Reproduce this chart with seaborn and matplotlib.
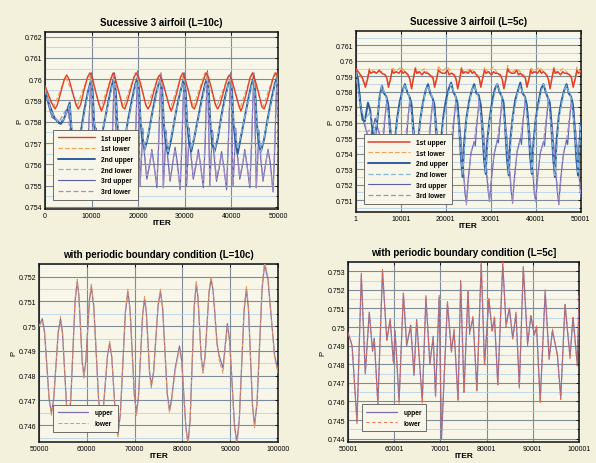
import matplotlib
matplotlib.use('Agg')
import matplotlib.pyplot as plt
from matplotlib.ticker import FuncFormatter, MultipleLocator
import seaborn as sns

# ---------------- Sucessive 3 airfoil (L=10c) ----------------
iter_10c_1u = [0, 700, 1400,
    2150, 2650, 3400, 4150, 4650, 5150, 5900, 6650,
    7135, 7635, 8385, 9135, 9635, 10135, 10885, 11635,
    12120, 12620, 13370, 14120, 14620, 15120, 15870, 16620,
    17105, 17605, 18355, 19105, 19605, 20105, 20855, 21605,
    22090, 22590, 23340, 24090, 24590, 25090, 25840, 26590,
    27075, 27575, 28325, 29075, 29575, 30075, 30825, 31575,
    32060, 32560, 33310, 34060, 34560, 35060, 35810, 36560,
    37045, 37545, 38295, 39045, 39545, 40045, 40795, 41545,
    42030, 42530, 43280, 44030, 44530, 45030, 45780, 46530,
    47015, 47515, 48265, 49015, 49515, 50000]
p_10c_1u = [0.7597, 0.7593, 0.7589,
    0.7586, 0.7588, 0.7594, 0.7600, 0.7602, 0.7600, 0.7594, 0.7588,
    0.7586, 0.7588, 0.7595, 0.7601, 0.7603, 0.7601, 0.7594, 0.7588,
    0.7585, 0.7588, 0.7594, 0.7600, 0.7603, 0.7600, 0.7594, 0.7587,
    0.7586, 0.7589, 0.7595, 0.7601, 0.7603, 0.7601, 0.7595, 0.7588,
    0.7586, 0.7588, 0.7594, 0.7600, 0.7602, 0.7600, 0.7594, 0.7588,
    0.7585, 0.7588, 0.7594, 0.7601, 0.7603, 0.7600, 0.7594, 0.7587,
    0.7586, 0.7589, 0.7595, 0.7600, 0.7603, 0.7601, 0.7595, 0.7588,
    0.7586, 0.7588, 0.7594, 0.7600, 0.7602, 0.7600, 0.7594, 0.7588,
    0.7585, 0.7588, 0.7594, 0.7601, 0.7603, 0.7600, 0.7594, 0.7587,
    0.7586, 0.7589, 0.7595, 0.7601, 0.7603, 0.7601]

iter_10c_1l = [0, 1000,
    1900, 3150, 4400, 5650,
    6885, 8135, 9385, 10635,
    11870, 13120, 14370, 15620,
    16855, 18105, 19355, 20605,
    21840, 23090, 24340, 25590,
    26825, 28075, 29325, 30575,
    31810, 33060, 34310, 35560,
    36795, 38045, 39295, 40545,
    41780, 43030, 44280, 45530,
    46765, 48015, 49265, 50000]
p_10c_1l = [0.7596, 0.7590,
    0.7587, 0.7594, 0.7601, 0.7595,
    0.7587, 0.7595, 0.7602, 0.7596,
    0.7586, 0.7594, 0.7602, 0.7595,
    0.7587, 0.7595, 0.7603, 0.7596,
    0.7587, 0.7594, 0.7601, 0.7595,
    0.7586, 0.7594, 0.7602, 0.7596,
    0.7587, 0.7595, 0.7603, 0.7595,
    0.7587, 0.7594, 0.7601, 0.7596,
    0.7586, 0.7594, 0.7602, 0.7595,
    0.7587, 0.7595, 0.7603, 0.7600]

iter_10c_2u = [0, 600, 1300, 2000, 2800, 3400, 4000, 4700, 5300, 5700, 6200, 6900, 7600, 8400, 9200,
    9935, 10235, 10535, 10935, 11435, 12135, 12935, 13735, 14435,
    14920, 15220, 15520, 15920, 16420, 17120, 17920, 18720, 19420,
    19905, 20205, 20505, 20905, 21405, 22105, 22905, 23705, 24405,
    24890, 25190, 25490, 25890, 26390, 27090, 27890, 28690, 29390,
    29875, 30175, 30475, 30875, 31375, 32075, 32875, 33675, 34375,
    34860, 35160, 35460, 35860, 36360, 37060, 37860, 38660, 39360,
    39845, 40145, 40445, 40845, 41345, 42045, 42845, 43645, 44345,
    44830, 45130, 45430, 45830, 46330, 47030, 47830, 48630, 49330,
    49815, 50000]
p_10c_2u = [0.7596, 0.7590, 0.7586, 0.7582, 0.7580, 0.7579, 0.7581, 0.7585, 0.7589, 0.7576, 0.7565, 0.7561, 0.7574, 0.7585, 0.7594,
    0.7600, 0.7594, 0.7580, 0.7571, 0.7566, 0.7573, 0.7582, 0.7591, 0.7598,
    0.7601, 0.7593, 0.7579, 0.7570, 0.7565, 0.7572, 0.7582, 0.7591, 0.7598,
    0.7601, 0.7594, 0.7580, 0.7571, 0.7567, 0.7573, 0.7583, 0.7592, 0.7598,
    0.7600, 0.7593, 0.7579, 0.7570, 0.7565, 0.7572, 0.7582, 0.7591, 0.7597,
    0.7601, 0.7594, 0.7580, 0.7571, 0.7566, 0.7573, 0.7582, 0.7591, 0.7598,
    0.7601, 0.7593, 0.7580, 0.7570, 0.7566, 0.7572, 0.7583, 0.7592, 0.7598,
    0.7600, 0.7594, 0.7579, 0.7571, 0.7565, 0.7573, 0.7582, 0.7591, 0.7598,
    0.7601, 0.7593, 0.7580, 0.7570, 0.7566, 0.7572, 0.7582, 0.7591, 0.7598,
    0.7601, 0.7597]

iter_10c_2l = [0, 1300, 2800, 4000, 5300, 6200, 7600, 9200,
    9935, 10535, 11435, 12935, 14435,
    14920, 15520, 16420, 17920, 19420,
    19905, 20505, 21405, 22905, 24405,
    24890, 25490, 26390, 27890, 29390,
    29875, 30475, 31375, 32875, 34375,
    34860, 35460, 36360, 37860, 39360,
    39845, 40445, 41345, 42845, 44345,
    44830, 45430, 46330, 47830, 49330,
    49815, 50000]
p_10c_2l = [0.7595, 0.7585, 0.7580, 0.7581, 0.7588, 0.7563, 0.7573, 0.7593,
    0.7600, 0.7581, 0.7567, 0.7582, 0.7597,
    0.7600, 0.7580, 0.7566, 0.7581, 0.7597,
    0.7601, 0.7581, 0.7567, 0.7582, 0.7598,
    0.7600, 0.7580, 0.7566, 0.7582, 0.7597,
    0.7600, 0.7581, 0.7567, 0.7581, 0.7597,
    0.7601, 0.7580, 0.7566, 0.7582, 0.7598,
    0.7600, 0.7581, 0.7567, 0.7582, 0.7597,
    0.7600, 0.7580, 0.7566, 0.7581, 0.7597,
    0.7600, 0.7596]

iter_10c_3u = [0, 700, 1500, 2300, 3000, 3600, 4200, 4900, 5400, 5900, 6400, 7000, 7600, 8200, 8800, 9400, 9700,
    9935, 10185, 10435, 10735, 11015, 11335, 11875, 12435, 12955, 13435, 14035, 14435, 14685,
    14920, 15170, 15420, 15720, 16000, 16320, 16860, 17420, 17940, 18420, 19020, 19420, 19670,
    19905, 20155, 20405, 20705, 20985, 21305, 21845, 22405, 22925, 23405, 24005, 24405, 24655,
    24890, 25140, 25390, 25690, 25970, 26290, 26830, 27390, 27910, 28390, 28990, 29390, 29640,
    29875, 30125, 30375, 30675, 30955, 31275, 31815, 32375, 32895, 33375, 33975, 34375, 34625,
    34860, 35110, 35360, 35660, 35940, 36260, 36800, 37360, 37880, 38360, 38960, 39360, 39610,
    39845, 40095, 40345, 40645, 40925, 41245, 41785, 42345, 42865, 43345, 43945, 44345, 44595,
    44830, 45080, 45330, 45630, 45910, 46230, 46770, 47330, 47850, 48330, 48930, 49330, 49580,
    49815, 50000]
p_10c_3u = [0.7596, 0.7588, 0.7582, 0.7581, 0.7579, 0.7580, 0.7582, 0.7586, 0.7580, 0.7560, 0.7543, 0.7560, 0.7572, 0.7556, 0.7551, 0.7578, 0.7594,
    0.7603, 0.7580, 0.7550, 0.7563, 0.7577, 0.7565, 0.7553, 0.7559, 0.7567, 0.7560, 0.7549, 0.7570, 0.7590,
    0.7603, 0.7579, 0.7551, 0.7564, 0.7576, 0.7564, 0.7552, 0.7558, 0.7566, 0.7559, 0.7548, 0.7571, 0.7591,
    0.7604, 0.7580, 0.7550, 0.7563, 0.7577, 0.7565, 0.7553, 0.7559, 0.7567, 0.7560, 0.7549, 0.7570, 0.7590,
    0.7603, 0.7581, 0.7549, 0.7562, 0.7576, 0.7564, 0.7552, 0.7560, 0.7568, 0.7561, 0.7548, 0.7569, 0.7590,
    0.7603, 0.7580, 0.7550, 0.7563, 0.7577, 0.7565, 0.7553, 0.7559, 0.7567, 0.7560, 0.7549, 0.7570, 0.7591,
    0.7604, 0.7579, 0.7551, 0.7564, 0.7576, 0.7564, 0.7552, 0.7558, 0.7566, 0.7559, 0.7548, 0.7571, 0.7590,
    0.7603, 0.7580, 0.7550, 0.7563, 0.7577, 0.7565, 0.7553, 0.7559, 0.7567, 0.7560, 0.7549, 0.7570, 0.7590,
    0.7603, 0.7581, 0.7549, 0.7562, 0.7576, 0.7564, 0.7552, 0.7560, 0.7567, 0.7561, 0.7547, 0.7569, 0.7591,
    0.7603, 0.7556]

iter_10c_3l = [0, 1500, 3000, 4900, 6400, 7600, 8800,
    9935, 10435, 11015, 11875, 12955, 14035,
    14920, 15420, 16000, 16860, 17940, 19020,
    19905, 20405, 20985, 21845, 22925, 24005,
    24890, 25390, 25970, 26830, 27910, 28990,
    29875, 30375, 30955, 31815, 32895, 33975,
    34860, 35360, 35940, 36800, 37880, 38960,
    39845, 40345, 40925, 41785, 42865, 43945,
    44830, 45330, 45910, 46770, 47850, 48930,
    49815, 50000]
p_10c_3l = [0.7595, 0.7583, 0.7580, 0.7587, 0.7545, 0.7571, 0.7552,
    0.7602, 0.7551, 0.7575, 0.7554, 0.7566, 0.7550,
    0.7602, 0.7550, 0.7576, 0.7553, 0.7565, 0.7549,
    0.7603, 0.7551, 0.7575, 0.7554, 0.7566, 0.7550,
    0.7602, 0.7549, 0.7574, 0.7553, 0.7567, 0.7549,
    0.7602, 0.7551, 0.7575, 0.7554, 0.7566, 0.7550,
    0.7603, 0.7550, 0.7576, 0.7553, 0.7565, 0.7549,
    0.7602, 0.7551, 0.7575, 0.7554, 0.7566, 0.7550,
    0.7602, 0.7549, 0.7574, 0.7553, 0.7567, 0.7548,
    0.7602, 0.7560]

# ---------------- Sucessive 3 airfoil (L=5c) ----------------
iter_5c_1u = [1, 800, 1500, 2126, 2600, 3000, 3300, 4000, 4600, 5200,
    5790, 6490, 6890, 7260, 7690, 8090, 8390, 8990, 9590, 10090, 10490,
    10920, 11620, 12020, 12390, 12820, 13220, 13520, 14120, 14720, 15220, 15620,
    16050, 16750, 17150, 17520, 17950, 18350, 18650, 19250, 19850, 20350, 20750,
    21180, 21880, 22280, 22650, 23080, 23480, 23780, 24380, 24980, 25480, 25880,
    26310, 27010, 27410, 27780, 28210, 28610, 28910, 29510, 30110, 30610, 31010,
    31440, 32140, 32540, 32910, 33340, 33740, 34040, 34640, 35240, 35740, 36140,
    36570, 37270, 37670, 38040, 38470, 38870, 39170, 39770, 40370, 40870, 41270,
    41700, 42400, 42800, 43170, 43600, 44000, 44300, 44900, 45500, 46000, 46400,
    46830, 47530, 47930, 48300, 48730, 49130, 49430, 50001]
p_5c_1u = [0.7595, 0.7592, 0.7589, 0.7583, 0.7588, 0.7594, 0.7592, 0.7593, 0.7592, 0.7594,
    0.7592, 0.7591, 0.7589, 0.7583, 0.7588, 0.7594, 0.7592, 0.7593, 0.7592, 0.7594, 0.7592,
    0.7593, 0.7591, 0.7588, 0.7582, 0.7589, 0.7595, 0.7592, 0.7593, 0.7591, 0.7593, 0.7592,
    0.7592, 0.7590, 0.7589, 0.7583, 0.7588, 0.7594, 0.7593, 0.7592, 0.7592, 0.7594, 0.7591,
    0.7592, 0.7591, 0.7588, 0.7582, 0.7588, 0.7595, 0.7592, 0.7593, 0.7592, 0.7594, 0.7592,
    0.7593, 0.7590, 0.7589, 0.7583, 0.7589, 0.7594, 0.7592, 0.7593, 0.7591, 0.7593, 0.7592,
    0.7592, 0.7591, 0.7588, 0.7582, 0.7588, 0.7595, 0.7593, 0.7592, 0.7592, 0.7594, 0.7591,
    0.7592, 0.7590, 0.7589, 0.7583, 0.7588, 0.7594, 0.7592, 0.7593, 0.7592, 0.7594, 0.7592,
    0.7593, 0.7591, 0.7588, 0.7582, 0.7589, 0.7595, 0.7592, 0.7593, 0.7591, 0.7593, 0.7592,
    0.7592, 0.7591, 0.7589, 0.7583, 0.7588, 0.7594, 0.7592, 0.7593]

iter_5c_1l = [1, 1200, 2126, 3000, 4200,
    5790, 6890, 7260, 7790, 8090, 8790, 10090,
    10920, 12020, 12390, 12920, 13220, 13920, 15220,
    16050, 17150, 17520, 18050, 18350, 19050, 20350,
    21180, 22280, 22650, 23180, 23480, 24180, 25480,
    26310, 27410, 27780, 28310, 28610, 29310, 30610,
    31440, 32540, 32910, 33440, 33740, 34440, 35740,
    36570, 37670, 38040, 38570, 38870, 39570, 40870,
    41700, 42800, 43170, 43700, 44000, 44700, 46000,
    46830, 47930, 48300, 48830, 49130, 50001]
p_5c_1l = [0.7595, 0.7589, 0.7584, 0.7595, 0.7593,
    0.7593, 0.7590, 0.7584, 0.7590, 0.7596, 0.7593, 0.7596,
    0.7593, 0.7589, 0.7583, 0.7591, 0.7596, 0.7592, 0.7595,
    0.7592, 0.7590, 0.7584, 0.7590, 0.7597, 0.7593, 0.7596,
    0.7593, 0.7589, 0.7583, 0.7590, 0.7596, 0.7592, 0.7595,
    0.7593, 0.7590, 0.7584, 0.7591, 0.7596, 0.7593, 0.7596,
    0.7592, 0.7589, 0.7583, 0.7590, 0.7597, 0.7592, 0.7595,
    0.7593, 0.7590, 0.7584, 0.7590, 0.7596, 0.7593, 0.7596,
    0.7593, 0.7589, 0.7583, 0.7591, 0.7596, 0.7592, 0.7595,
    0.7593, 0.7590, 0.7584, 0.7590, 0.7596, 0.7593]

iter_5c_2u = [1, 500, 1000, 1500, 2000, 2700, 3200, 3800, 4300, 4800, 5300,
    5790, 6290, 6790, 7190, 7590, 7990, 8340, 8690, 9190, 9790, 10390,
    10920, 11420, 11920, 12320, 12720, 13120, 13470, 13820, 14320, 14920, 15520,
    16050, 16550, 17050, 17450, 17850, 18250, 18600, 18950, 19450, 20050, 20650,
    21180, 21680, 22180, 22580, 22980, 23380, 23730, 24080, 24580, 25180, 25780,
    26310, 26810, 27310, 27710, 28110, 28510, 28860, 29210, 29710, 30310, 30910,
    31440, 31940, 32440, 32840, 33240, 33640, 33990, 34340, 34840, 35440, 36040,
    36570, 37070, 37570, 37970, 38370, 38770, 39120, 39470, 39970, 40570, 41170,
    41700, 42200, 42700, 43100, 43500, 43900, 44250, 44600, 45100, 45700, 46300,
    46830, 47330, 47830, 48230, 48630, 49030, 49380, 49730, 50001]
p_5c_2u = [0.7594, 0.7588, 0.7572, 0.7562, 0.7561, 0.7573, 0.7568, 0.7553, 0.7551, 0.7562, 0.7577,
    0.7584, 0.7579, 0.7577, 0.7572, 0.7555, 0.7537, 0.7528, 0.7548, 0.7563, 0.7574, 0.7581,
    0.7585, 0.7580, 0.7577, 0.7573, 0.7556, 0.7536, 0.7526, 0.7547, 0.7562, 0.7573, 0.7581,
    0.7585, 0.7579, 0.7576, 0.7572, 0.7554, 0.7535, 0.7527, 0.7549, 0.7564, 0.7575, 0.7582,
    0.7586, 0.7580, 0.7577, 0.7573, 0.7556, 0.7537, 0.7525, 0.7547, 0.7563, 0.7574, 0.7581,
    0.7585, 0.7579, 0.7578, 0.7572, 0.7555, 0.7536, 0.7527, 0.7548, 0.7562, 0.7574, 0.7582,
    0.7585, 0.7580, 0.7577, 0.7573, 0.7554, 0.7535, 0.7526, 0.7549, 0.7563, 0.7575, 0.7581,
    0.7586, 0.7579, 0.7577, 0.7572, 0.7556, 0.7537, 0.7527, 0.7547, 0.7562, 0.7573, 0.7582,
    0.7585, 0.7580, 0.7576, 0.7573, 0.7555, 0.7536, 0.7525, 0.7548, 0.7564, 0.7574, 0.7581,
    0.7585, 0.7579, 0.7577, 0.7572, 0.7555, 0.7536, 0.7526, 0.7548, 0.7560]

iter_5c_2l = [1, 1000, 2000, 3200, 4300, 5300,
    5790, 6790, 7590, 8340, 9190, 10390,
    10920, 11920, 12720, 13470, 14320, 15520,
    16050, 17050, 17850, 18600, 19450, 20650,
    21180, 22180, 22980, 23730, 24580, 25780,
    26310, 27310, 28110, 28860, 29710, 30910,
    31440, 32440, 33240, 33990, 34840, 36040,
    36570, 37570, 38370, 39120, 39970, 41170,
    41700, 42700, 43500, 44250, 45100, 46300,
    46830, 47830, 48630, 49380, 50001]
p_5c_2l = [0.7593, 0.7571, 0.7562, 0.7567, 0.7552, 0.7576,
    0.7584, 0.7576, 0.7557, 0.7529, 0.7561, 0.7580,
    0.7585, 0.7577, 0.7556, 0.7527, 0.7562, 0.7581,
    0.7584, 0.7576, 0.7557, 0.7528, 0.7561, 0.7580,
    0.7585, 0.7577, 0.7556, 0.7526, 0.7562, 0.7581,
    0.7584, 0.7576, 0.7557, 0.7528, 0.7561, 0.7580,
    0.7585, 0.7577, 0.7556, 0.7527, 0.7562, 0.7581,
    0.7584, 0.7576, 0.7557, 0.7528, 0.7561, 0.7580,
    0.7585, 0.7577, 0.7556, 0.7526, 0.7562, 0.7581,
    0.7584, 0.7576, 0.7557, 0.7528, 0.7558]

iter_5c_3u = [1, 600, 1200, 1800, 2500, 3100, 3700, 4300, 4900, 5400,
    5790, 6040, 6390, 6890, 7290, 7890, 8490, 8890, 9190, 9590, 10190,
    10920, 11170, 11520, 12020, 12420, 13020, 13620, 14020, 14320, 14720, 15320,
    16050, 16300, 16650, 17150, 17550, 18150, 18750, 19150, 19450, 19850, 20450,
    21180, 21430, 21780, 22280, 22680, 23280, 23880, 24280, 24580, 24980, 25580,
    26310, 26560, 26910, 27410, 27810, 28410, 29010, 29410, 29710, 30110, 30710,
    31440, 31690, 32040, 32540, 32940, 33540, 34140, 34540, 34840, 35240, 35840,
    36570, 36820, 37170, 37670, 38070, 38670, 39270, 39670, 39970, 40370, 40970,
    41700, 41950, 42300, 42800, 43200, 43800, 44400, 44800, 45100, 45500, 46100,
    46830, 47080, 47430, 47930, 48330, 48930, 49530, 50001]
p_5c_3u = [0.7594, 0.7586, 0.7570, 0.7560, 0.7553, 0.7549, 0.7556, 0.7563, 0.7556, 0.7551,
    0.7549, 0.7546, 0.7560, 0.7575, 0.7571, 0.7552, 0.7530, 0.7516, 0.7511, 0.7524, 0.7540,
    0.7548, 0.7545, 0.7559, 0.7576, 0.7572, 0.7553, 0.7529, 0.7514, 0.7509, 0.7523, 0.7539,
    0.7549, 0.7547, 0.7561, 0.7575, 0.7570, 0.7551, 0.7531, 0.7515, 0.7510, 0.7525, 0.7541,
    0.7550, 0.7546, 0.7560, 0.7576, 0.7571, 0.7552, 0.7530, 0.7514, 0.7508, 0.7524, 0.7540,
    0.7548, 0.7545, 0.7559, 0.7575, 0.7572, 0.7553, 0.7529, 0.7516, 0.7510, 0.7523, 0.7539,
    0.7549, 0.7547, 0.7560, 0.7576, 0.7570, 0.7551, 0.7530, 0.7515, 0.7509, 0.7525, 0.7541,
    0.7550, 0.7546, 0.7561, 0.7575, 0.7571, 0.7552, 0.7531, 0.7514, 0.7510, 0.7524, 0.7540,
    0.7548, 0.7545, 0.7559, 0.7576, 0.7572, 0.7553, 0.7529, 0.7515, 0.7508, 0.7523, 0.7539,
    0.7549, 0.7546, 0.7560, 0.7575, 0.7571, 0.7552, 0.7530, 0.7512]

iter_5c_3l = [1, 1200, 2500, 3700, 4900,
    5790, 6890, 7890, 9190, 10190,
    10920, 12020, 13020, 14320, 15320,
    16050, 17150, 18150, 19450, 20450,
    21180, 22280, 23280, 24580, 25580,
    26310, 27410, 28410, 29710, 30710,
    31440, 32540, 33540, 34840, 35840,
    36570, 37670, 38670, 39970, 40970,
    41700, 42800, 43800, 45100, 46100,
    46830, 47930, 48930, 50001]
p_5c_3l = [0.7593, 0.7569, 0.7554, 0.7557, 0.7557,
    0.7548, 0.7574, 0.7553, 0.7509, 0.7541,
    0.7547, 0.7575, 0.7552, 0.7508, 0.7540,
    0.7548, 0.7574, 0.7553, 0.7510, 0.7542,
    0.7549, 0.7575, 0.7552, 0.7507, 0.7541,
    0.7547, 0.7574, 0.7553, 0.7509, 0.7540,
    0.7548, 0.7575, 0.7552, 0.7508, 0.7542,
    0.7549, 0.7574, 0.7553, 0.7509, 0.7541,
    0.7547, 0.7575, 0.7552, 0.7507, 0.7540,
    0.7548, 0.7574, 0.7553, 0.7512]

# ---------------- periodic boundary condition (L=10c) ----------------
iter_pbc_10c = [50000, 50700, 51175, 52125, 52600, 53075, 54025, 54500, 54925, 55775,
    56200, 56650, 57550, 58000, 58350, 59050, 59400, 59790, 60560, 60950,
    61460, 62490, 63000, 63450, 64350, 64800, 65225, 66075, 66500, 67025,
    68075, 68600, 69050, 69950, 70400, 70825, 71675, 72100, 72450, 73150,
    73500, 73975, 74925, 75400, 75875, 76825, 77300, 77700, 78500, 78900,
    79400, 79850, 80750, 81200, 81625, 82475, 82900, 83250, 83950, 84300,
    84725, 85575, 86000, 86425, 87275, 87700, 88500, 88950, 89400, 89900,
    90900, 91400, 91900, 92900, 93400, 93825, 94675, 95100, 95625, 96675,
    97200, 97900, 99300, 100000]
p_pbc_10c_upper = [0.7500, 0.7503, 0.74975, 0.74705, 0.7465, 0.74705, 0.74975, 0.7503, 0.7497, 0.7468,
    0.7462, 0.7470, 0.7510, 0.7518, 0.75125, 0.74855, 0.7480, 0.74855, 0.75105, 0.7516,
    0.75081, 0.74699, 0.7462, 0.74665, 0.74885, 0.7493, 0.74876, 0.74614, 0.7456, 0.74645,
    0.75055, 0.7514, 0.75068, 0.74722, 0.7465, 0.74717, 0.75043, 0.7511, 0.75059, 0.74811,
    0.7476, 0.74815, 0.75085, 0.7514, 0.7507, 0.7473, 0.7466, 0.7470, 0.7483, 0.7487,
    0.7492, 0.74863, 0.74587, 0.7453, 0.74623, 0.75077, 0.7517, 0.75119, 0.74871, 0.7482,
    0.74874, 0.75136, 0.7519, 0.75145, 0.74925, 0.7488, 0.7483, 0.7492, 0.7501, 0.7494,
    0.7460, 0.7453, 0.7462, 0.7506, 0.7515, 0.7507, 0.7468, 0.7460, 0.7469, 0.7515,
    0.7525, 0.7519, 0.7488, 0.7482]
p_pbc_10c_lower = [0.7500, 0.7502, 0.74970, 0.74700, 0.7464, 0.74700, 0.74980, 0.7504, 0.7498, 0.7467,
    0.7461, 0.7471, 0.7511, 0.7519, 0.75120, 0.74850, 0.7479, 0.74850, 0.75110, 0.7517,
    0.75085, 0.74695, 0.7461, 0.74660, 0.74890, 0.7494, 0.74880, 0.74610, 0.7455, 0.74640,
    0.75060, 0.7515, 0.75070, 0.74720, 0.7464, 0.74720, 0.75050, 0.7512, 0.75060, 0.74805,
    0.7475, 0.74810, 0.75090, 0.7515, 0.7508, 0.7472, 0.7465, 0.7469, 0.7482, 0.7486,
    0.7491, 0.74860, 0.74580, 0.7452, 0.74620, 0.75080, 0.7518, 0.75125, 0.74865, 0.7481,
    0.74870, 0.75140, 0.7520, 0.75150, 0.74930, 0.7486, 0.7481, 0.7491, 0.7500, 0.7493,
    0.7459, 0.7452, 0.7461, 0.7507, 0.7516, 0.7508, 0.7467, 0.7459, 0.7470, 0.7516,
    0.7526, 0.7520, 0.7487, 0.7481]

# ---------------- periodic boundary condition (L=5c) ----------------
iter_pbc_5c = [50001, 50861, 51937, 52869, 53729, 54590, 55307, 55665, 56454, 57458,
    58390, 59107, 59824, 60182, 61043, 61975, 62692, 63552, 64269, 64843,
    66062, 66850, 67711, 68428, 68930, 69719, 70220, 71511, 72371, 72945,
    73805, 74379, 75100, 75956, 76315, 77032, 77892, 78824, 79541, 80473,
    81190, 81692, 82409, 83485, 84202, 84919, 85636, 86353, 87070, 87930,
    88863, 89580, 90297, 90800, 91587, 92663, 93523, 94240, 95316, 96033,
    96966, 98040, 98685, 99617, 100001]
p_pbc_5c_upper = [0.7497, 0.7490, 0.7449, 0.7528, 0.7475, 0.7508, 0.7487, 0.7494, 0.7459, 0.7530,
    0.7493, 0.7504, 0.7481, 0.7498, 0.7460, 0.7518, 0.7490, 0.7501, 0.7474, 0.7504,
    0.7460, 0.7516, 0.7480, 0.7495, 0.7463, 0.7516, 0.7440, 0.7513, 0.7487, 0.7498,
    0.7461, 0.7524, 0.7465, 0.7519, 0.7497, 0.7505, 0.7466, 0.7534, 0.7480, 0.7515,
    0.7498, 0.7505, 0.7469, 0.7534, 0.7501, 0.7510, 0.7494, 0.7507, 0.7468, 0.7532,
    0.7491, 0.7506, 0.7496, 0.7500, 0.7460, 0.7519, 0.7483, 0.7498, 0.7485, 0.7462,
    0.7512, 0.7484, 0.7505, 0.7480, 0.7517]
p_pbc_5c_lower = [0.7496, 0.7491, 0.7448, 0.7529, 0.7476, 0.7507, 0.7488, 0.7493, 0.7458, 0.7531,
    0.7492, 0.7505, 0.7480, 0.7497, 0.7459, 0.7519, 0.7491, 0.7500, 0.7475, 0.7503,
    0.7459, 0.7517, 0.7481, 0.7494, 0.7462, 0.7517, 0.7441, 0.7514, 0.7486, 0.7499,
    0.7460, 0.7525, 0.7464, 0.7520, 0.7496, 0.7506, 0.7465, 0.7535, 0.7479, 0.7516,
    0.7497, 0.7506, 0.7468, 0.7535, 0.7500, 0.7511, 0.7493, 0.7508, 0.7467, 0.7533,
    0.7490, 0.7507, 0.7495, 0.7501, 0.7459, 0.7520, 0.7482, 0.7499, 0.7484, 0.7461,
    0.7513, 0.7483, 0.7506, 0.7479, 0.7518]

# ---------------- style ----------------
sns.set_theme(style='white')
plt.rcParams['font.family'] = ['Liberation Sans', 'DejaVu Sans']
plt.rcParams['text.color'] = 'black'
plt.rcParams['axes.labelcolor'] = 'black'
plt.rcParams['xtick.color'] = 'black'
plt.rcParams['ytick.color'] = 'black'

BG = '#f3f1dc'
AXBG = '#f7f6e8'
red, orange = '#e0402c', '#f0a050'
dblue, lblue = '#2d5d9c', '#86b6dc'
purp, lav = '#5860ac', '#a88cc8'

gfmt = FuncFormatter(lambda v, p: f'{v:g}')

fig = plt.figure(figsize=(5.96, 4.64), dpi=100, facecolor=BG)


def line(ax, x, y, color, lw, ls, label, z):
    sns.lineplot(x=x, y=y, ax=ax, color=color, lw=lw, linestyle=ls,
                 label=label, estimator=None, sort=False, zorder=z)


def style_axes(ax, title, xlim, xticks, ylim, ystep):
    ax.set_facecolor(AXBG)
    ax.set_xlim(*xlim)
    ax.set_ylim(*ylim)
    ax.set_xticks(xticks)
    ax.yaxis.set_major_locator(MultipleLocator(ystep))
    ax.yaxis.set_minor_locator(MultipleLocator(ystep / 2))
    ax.xaxis.set_major_formatter(gfmt)
    ax.yaxis.set_major_formatter(gfmt)
    ax.grid(True, which='major', color='#7f8c98', lw=0.8)
    ax.grid(True, which='minor', axis='y', color='#b8d2e8', lw=0.6)
    ax.set_axisbelow(True)
    ax.tick_params(which='both', direction='in', top=True, right=True,
                   labelsize=5, pad=2, length=2.5, width=0.6)
    ax.tick_params(which='minor', length=1.3)
    for s in ax.spines.values():
        s.set_color('#111111')
        s.set_linewidth(1.1)
    ax.set_title(title, fontsize=7, fontweight='bold', pad=5, color='black')
    ax.set_xlabel('ITER', fontsize=6, fontweight='bold', labelpad=0)
    ax.set_ylabel('P', fontsize=5.5, labelpad=1)


def legend(ax, anchor, hl):
    lg = ax.legend(loc='lower left', bbox_to_anchor=anchor, fontsize=4.8,
                   handlelength=hl, handletextpad=0.9, labelspacing=0.55,
                   borderpad=0.7, fancybox=False, framealpha=1,
                   facecolor=AXBG, edgecolor='#555555')
    lg.get_frame().set_linewidth(0.6)
    for t in lg.get_texts():
        t.set_fontweight('bold')
        t.set_color('black')


# top left
ax1 = fig.add_axes([0.0755, 0.547, 0.391, 0.381])
line(ax1, iter_10c_1u, p_10c_1u, red, 1.0, '-', '1st upper', 6)
line(ax1, iter_10c_1l, p_10c_1l, orange, 0.8, (0, (4, 2)), '1st lower', 5)
line(ax1, iter_10c_2u, p_10c_2u, dblue, 1.4, '-', '2nd upper', 4)
line(ax1, iter_10c_2l, p_10c_2l, lblue, 0.9, (0, (4, 2)), '2nd lower', 4)
line(ax1, iter_10c_3u, p_10c_3u, purp, 0.8, '-', '3rd upper', 3)
line(ax1, iter_10c_3l, p_10c_3l, lav, 0.9, (0, (4, 2)), '3rd lower', 3)
style_axes(ax1, 'Sucessive 3 airfoil (L=10c)', (0, 50000),
           [0, 10000, 20000, 30000, 40000, 50000], (0.75389, 0.7622), 0.001)
legend(ax1, (0.02, 0.035), 5.6)

# top right
ax2 = fig.add_axes([0.597, 0.541, 0.3775, 0.390])
line(ax2, iter_5c_1u, p_5c_1u, red, 1.1, '-', '1st upper', 6)
line(ax2, iter_5c_1l, p_5c_1l, orange, 0.8, (0, (4, 2)), '1st lower', 5)
line(ax2, iter_5c_2u, p_5c_2u, dblue, 1.4, '-', '2nd upper', 4)
line(ax2, iter_5c_2l, p_5c_2l, lblue, 0.9, (0, (4, 2)), '2nd lower', 4)
line(ax2, iter_5c_3u, p_5c_3u, purp, 0.8, '-', '3rd upper', 3)
line(ax2, iter_5c_3l, p_5c_3l, lav, 0.9, (0, (4, 2)), '3rd lower', 3)
style_axes(ax2, 'Sucessive 3 airfoil (L=5c)', (1, 50001),
           [1, 10001, 20001, 30001, 40001, 50001], (0.75024, 0.76193), 0.001)
legend(ax2, (0.02, 0.025), 6.2)

# bottom left
ax3 = fig.add_axes([0.0654, 0.0453, 0.401, 0.384])
line(ax3, iter_pbc_10c, p_pbc_10c_upper, '#7d6fae', 0.9, '-', 'upper', 3)
line(ax3, iter_pbc_10c, p_pbc_10c_lower, '#e8925e', 0.7, (0, (4, 2)), 'lower', 4)
style_axes(ax3, 'with periodic boundary condition (L=10c)', (50000, 100000),
           [50000, 60000, 70000, 80000, 90000, 100000], (0.74532, 0.75252), 0.001)
legend(ax3, (0.045, 0.04), 4.6)

# bottom right
ax4 = fig.add_axes([0.584, 0.0453, 0.3876, 0.388])
line(ax4, iter_pbc_5c, p_pbc_5c_upper, '#7d6fae', 0.9, '-', 'upper', 3)
line(ax4, iter_pbc_5c, p_pbc_5c_lower, '#e86a4a', 0.7, (0, (3, 3)), 'lower', 4)
style_axes(ax4, 'with periodic boundary condition (L=5c]', (50001, 100001),
           [50001, 60001, 70001, 80001, 90001, 100001], (0.74382, 0.7535), 0.001)
legend(ax4, (0.045, 0.04), 4.6)

fig.savefig('out.png', dpi=100, facecolor=BG)
